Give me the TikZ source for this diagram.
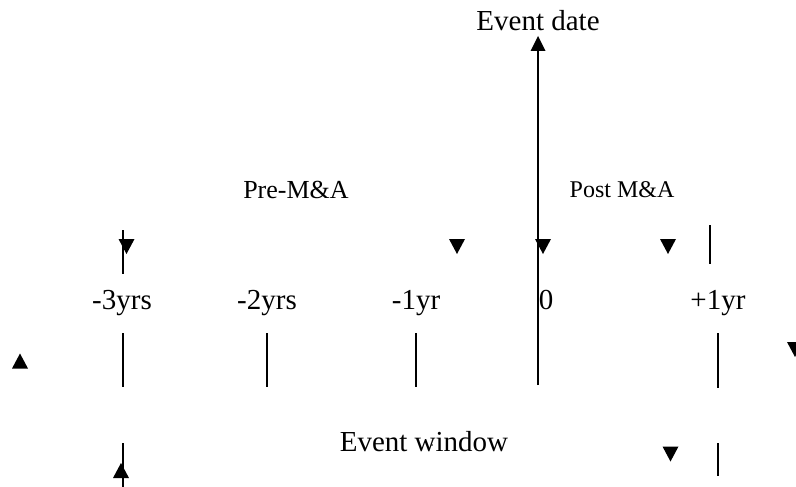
\documentclass[tikz,border=0pt]{standalone}
\usepackage{fontspec}
\setmainfont{Liberation Serif}
\begin{document}
\begin{tikzpicture}[x=1pt,y=-1pt,
  rule/.style={line width=1.3pt},
  lbl/.style={font=\fontsize{29}{31}\selectfont, inner sep=0pt, anchor=base},
  midlbl/.style={font=\fontsize{26}{28}\selectfont, inner sep=0pt, anchor=base},
  smalllbl/.style={font=\fontsize{24}{26}\selectfont, inner sep=0pt, anchor=base},
  tdown/.pic={\fill (-8,-7.5) -- (8,-7.5) -- (0,7.5) -- cycle;},
  tup/.pic={\fill (-8,7.5) -- (8,7.5) -- (0,-7.5) -- cycle;}]
\useasboundingbox (0,0) rectangle (796,487);
% titles
\node[lbl] (evdate) at (538,31) {Event date};
\node[midlbl] (pre) at (296,198) {Pre-M\&A};
\node[smalllbl] (post) at (622,197) {Post M\&A};
% main event date arrow
\coordinate (ebot) at (538,385);
\coordinate (etop) at (538,36);
\draw[rule] (ebot) -- (538,48);
\fill (etop) -- (545.5,51) -- (530.5,51) -- cycle;
% upper short lines
\draw[rule] (123,230) -- (123,274);
\draw[rule] (710,225) -- (710,264);
% down triangles row
\pic at (126.5,246.5) {tdown};
\pic at (457,246.5) {tdown};
\pic at (543,246.5) {tdown};
\pic at (668,246.5) {tdown};
% year labels
\node[lbl] (m3) at (122,309) {-3yrs};
\node[lbl] (m2) at (267,309) {-2yrs};
\node[lbl] (m1) at (416,309) {-1yr};
\node[lbl] (z0) at (546,309) {0};
\node[lbl] (p1) at (718,309) {+1yr};
% ticks
\draw[rule] (123,333) -- (123,387);
\draw[rule] (267,333) -- (267,387);
\draw[rule] (416,333) -- (416,387);
\draw[rule] (718,333) -- (718,388);
% side triangles
\pic at (20,361) {tup};
\pic at (795,349.5) {tdown};
% bottom
\node[lbl] (ew) at (424,451) {Event window};
\fill (432,445) circle (0.9);
\draw[rule] (123,443) -- (123,487);
\pic at (121,470.5) {tup};
\pic at (670.5,454) {tdown};
\draw[rule] (718,443) -- (718,476);
\end{tikzpicture}
\end{document}
